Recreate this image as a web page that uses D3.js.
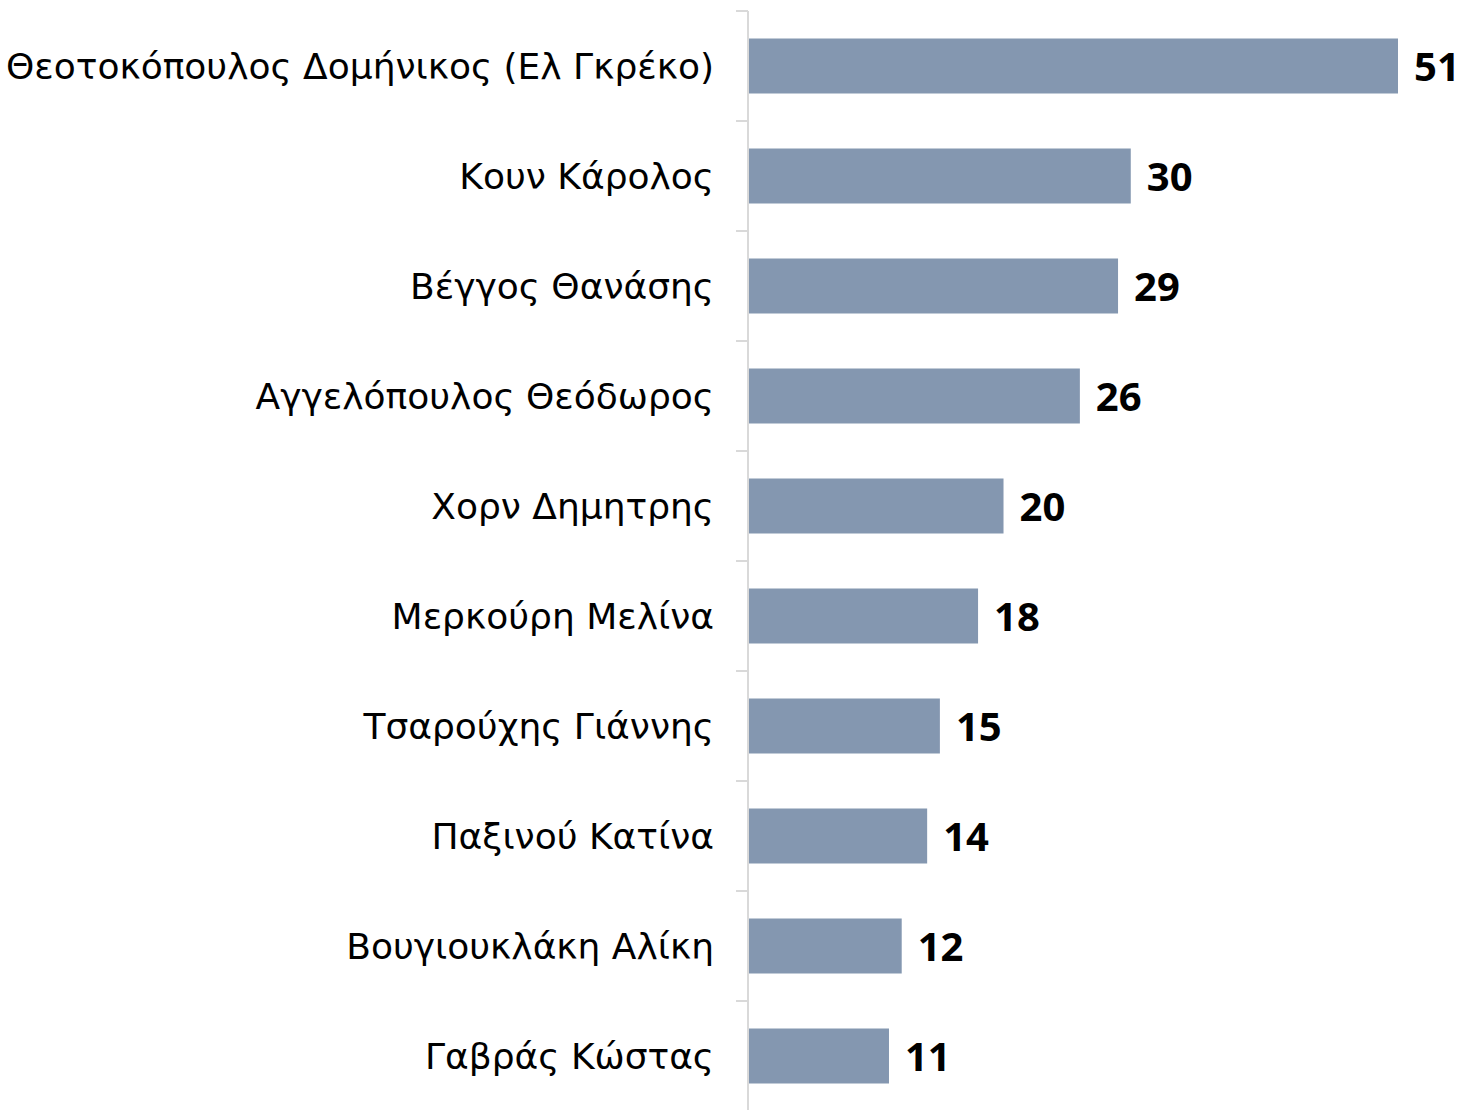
<!DOCTYPE html>
<html>
<head>
<meta charset="utf-8">
<script src="https://cdn.jsdelivr.net/npm/d3@7"></script>
<style>
  body { margin: 0; background: #fff; }
  .cat text { font-family: "DejaVu Sans", "Noto Sans", sans-serif; font-size: 36px; fill: #000; }
  .val { font-family: "Noto Sans", "DejaVu Sans", sans-serif; font-size: 40px; font-weight: bold; fill: #000; }
</style>
</head>
<body>
<div id="chart"></div>
<script>
// categories, top to bottom
const names = [
  "Θεοτοκόπουλος Δομήνικος (Ελ Γκρέκο)",
  "Κουν Κάρολος",
  "Βέγγος Θανάσης",
  "Αγγελόπουλος Θεόδωρος",
  "Χορν Δημητρης",
  "Μερκούρη Μελίνα",
  "Τσαρούχης Γιάννης",
  "Παξινού Κατίνα",
  "Βουγιουκλάκη Αλίκη",
  "Γαβράς Κώστας"
];
const values = [51, 30, 29, 26, 20, 18, 15, 14, 12, 11];

let width = 1463, height = 1110;
let margin = {top: 11, right: 0, bottom: -1, left: 748};

let svg = d3.select("#chart").append("svg")
  .attr("width", width)
  .attr("height", height);

let g = svg.append("g")
  .attr("transform", "translate(" + margin.left + "," + margin.top + ")");

let innerHeight = height - margin.top - margin.bottom;

let yScale = d3.scaleBand()
  .domain(names)
  .range([0, innerHeight])
  .paddingInner(0.5)
  .paddingOuter(0.25);

let xScale = d3.scaleLinear()
  .domain([0, 51])
  .range([0, 649]);

// category axis: ticks at band boundaries, drawn by hand as short lines
let bounds = names.map(d => yScale(d) - yScale.step() * yScale.paddingInner() / 2);
bounds.push(bounds[bounds.length - 1] + yScale.step());

g.append("line")
  .attr("x1", 0).attr("x2", 0)
  .attr("y1", 0).attr("y2", height)
  .attr("stroke", "#d9d9d9").attr("stroke-width", 2);

g.selectAll(".tick-line")
  .data(bounds)
  .join("line")
  .attr("class", "tick-line")
  .attr("x1", -12).attr("x2", 0)
  .attr("y1", d => d).attr("y2", d => d)
  .attr("stroke", "#d9d9d9").attr("stroke-width", 2);

let cat = g.append("g").attr("class", "cat");
cat.selectAll("text")
  .data(names)
  .join("text")
  .attr("x", -34)
  .attr("y", d => yScale(d) + yScale.bandwidth() / 2)
  .attr("dy", "0.36em")
  .attr("text-anchor", "end")
  .text(d => d);

g.selectAll(".bar")
  .data(values)
  .join("rect")
  .attr("class", "bar")
  .attr("fill", "#8497b0")
  .attr("x", 1)
  .attr("y", (d, i) => yScale(names[i]))
  .attr("height", yScale.bandwidth())
  .attr("width", d => xScale(d));

g.selectAll(".val")
  .data(values)
  .join("text")
  .attr("class", "val")
  .attr("x", d => xScale(d) + 17)
  .attr("y", (d, i) => yScale(names[i]) + yScale.bandwidth() / 2)
  .attr("dy", "0.38em")
  .text(d => d);
</script>
</body>
</html>
